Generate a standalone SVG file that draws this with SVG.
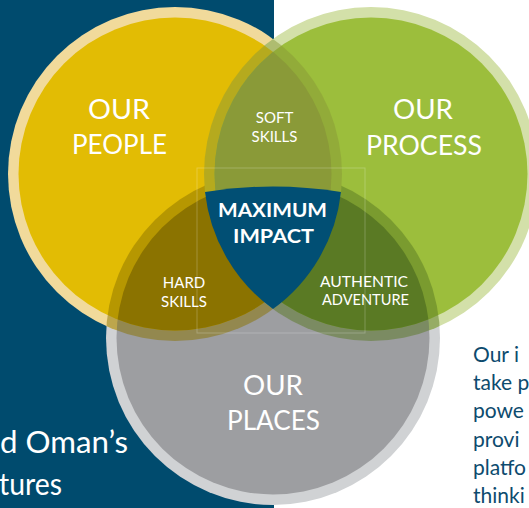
<svg xmlns="http://www.w3.org/2000/svg" width="529" height="508" viewBox="0 0 529 508">
<style>
.h{font-family:Lato,"Liberation Sans",sans-serif;fill:#ffffff;text-anchor:middle;}
.big{font-size:27px;}
.sm{font-size:15px;}
.bold{font-size:18.5px;font-weight:bold;}
.body{font-family:Lato,"Liberation Sans",sans-serif;font-size:30px;fill:#ffffff;}
.rt{font-family:Lato,"Liberation Sans",sans-serif;font-size:21px;fill:#0d4b6e;}
</style>
<defs>
<clipPath id="cY"><circle cx="175" cy="174" r="167"/></clipPath>
<clipPath id="cG"><circle cx="371" cy="174" r="167"/></clipPath>
<clipPath id="cP"><circle cx="273" cy="338" r="167"/></clipPath>
<clipPath id="iY"><circle cx="175" cy="174" r="156.5"/></clipPath>
<clipPath id="iG"><circle cx="371" cy="174" r="156.5"/></clipPath>
<clipPath id="iP"><circle cx="273" cy="338" r="156.5"/></clipPath>
</defs>
<rect x="0" y="0" width="529" height="508" fill="#ffffff"/>
<rect x="0" y="0" width="274" height="508" fill="#004b6e"/>
<g id="body-text">
<text class="body" x="0" y="453" textLength="128" lengthAdjust="spacingAndGlyphs">d Oman’s</text>
<text class="body" x="-1" y="495" textLength="63" lengthAdjust="spacingAndGlyphs">tures</text>
<text class="rt" x="473" y="362">Our i</text>
<text class="rt" x="473" y="390">take p</text>
<text class="rt" x="473" y="418">powe</text>
<text class="rt" x="473" y="446.5">provi</text>
<text class="rt" x="473" y="475">platfo</text>
<text class="rt" x="473" y="503">thinki</text>
</g>
<g id="circles">
<circle cx="273" cy="338" r="167" fill="#d0d2d4"/>
<circle cx="175" cy="174" r="167" fill="#f1da9b"/>
<circle cx="371" cy="174" r="167" fill="#d3e0a9"/>
<circle cx="273" cy="338" r="156.5" fill="#9d9ea1"/>
<circle cx="175" cy="174" r="156.5" fill="#e2bc04"/>
<circle cx="371" cy="174" r="156.5" fill="#9cbe3c"/>
</g>
<g id="overlap-tints" opacity="0.5">
<g clip-path="url(#cY)"><circle cx="273" cy="338" r="167" fill="#8b7300"/></g>
<g clip-path="url(#cG)"><circle cx="273" cy="338" r="167" fill="#5a7a24"/></g>
<g clip-path="url(#cY)"><circle cx="371" cy="174" r="167" fill="#8a9a38"/></g>
</g>
<g id="hard-skills">
<g clip-path="url(#iY)"><circle cx="273" cy="338" r="156.5" fill="#8b7300"/></g>
<text class="h sm" x="184" y="288">HARD</text>
<text class="h sm" x="184" y="307">SKILLS</text>
</g>
<g id="authentic-adventure">
<g clip-path="url(#iG)"><circle cx="273" cy="338" r="156.5" fill="#5a7a24"/></g>
<text class="h sm" x="364" y="287" textLength="88" lengthAdjust="spacingAndGlyphs">AUTHENTIC</text>
<text class="h sm" x="365.5" y="305" textLength="87" lengthAdjust="spacingAndGlyphs">ADVENTURE</text>
</g>
<g id="soft-skills">
<g clip-path="url(#iY)"><circle cx="371" cy="174" r="156.5" fill="#8a9a38"/></g>
<text class="h sm" x="274.5" y="123">SOFT</text>
<text class="h sm" x="274.5" y="142">SKILLS</text>
</g>
<g id="maximum-impact">
<path d="M205,192 Q273,181 341,192 A167,167 0 0 1 273,309 A167,167 0 0 1 205,192 Z" fill="#014f74"/>
<text class="h bold" x="272.5" y="217" textLength="109" lengthAdjust="spacingAndGlyphs">MAXIMUM</text>
<text class="h bold" x="273.5" y="243" textLength="81" lengthAdjust="spacingAndGlyphs">IMPACT</text>
</g>
<rect x="197" y="168" width="168" height="165" fill="none" stroke="#ffffff" stroke-opacity="0.22" stroke-width="1"/>
<g id="our-people">
<text class="h big" x="119" y="119" textLength="62" lengthAdjust="spacingAndGlyphs">OUR</text>
<text class="h big" x="119.5" y="154" textLength="95" lengthAdjust="spacingAndGlyphs">PEOPLE</text>
</g>
<g id="our-process">
<text class="h big" x="423" y="119" textLength="60" lengthAdjust="spacingAndGlyphs">OUR</text>
<text class="h big" x="424" y="155" textLength="116" lengthAdjust="spacingAndGlyphs">PROCESS</text>
</g>
<g id="our-places">
<text class="h big" x="273" y="395" textLength="60" lengthAdjust="spacingAndGlyphs">OUR</text>
<text class="h big" x="273.5" y="430" textLength="93" lengthAdjust="spacingAndGlyphs">PLACES</text>
</g>
</svg>
